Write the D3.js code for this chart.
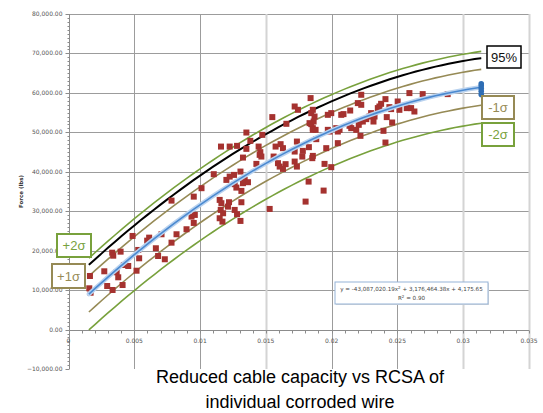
<!DOCTYPE html>
<html>
<head>
<meta charset="utf-8">
<script src="https://cdn.jsdelivr.net/npm/d3@7"></script>
<style>
  body { margin: 0; background: #fff; }
  text { font-family: "DejaVu Sans", sans-serif; }
</style>
</head>
<body>
<svg id="chart" width="543" height="413"></svg>
<script>
// measured points: [RCSA ratio, force lbs]
const samples = [
  [0.00783, 32690], [0.00952, 33700], [0.00487, 23730], [0.00332, 19490], [0.00396, 19750],
  [0.00340, 18730], [0.00613, 23300], [0.00598, 22540], [0.00707, 24160], [0.00821, 24160],
  [0.00897, 25430], [0.00935, 28630], [0.00960, 29060], [0.00952, 27030], [0.00664, 20610],
  [0.00530, 20180], [0.00537, 18070], [0.00681, 18650], [0.00732, 17820], [0.00783, 22030],
  [0.00421, 16370], [0.00454, 16120], [0.00272, 14770], [0.00366, 14520], [0.00378, 13250],
  [0.00517, 14920], [0.00163, 13580], [0.00158, 10460], [0.00168, 9340], [0.00294, 11040],
  [0.00335, 10030], [0.00411, 11290],
  [0.01840, 58680], [0.01719, 56550], [0.01744, 55710], [0.01549, 53860], [0.01656, 52160],
  [0.01845, 52080], [0.01857, 51060], [0.01352, 49950], [0.01473, 49360], [0.01382, 47840],
  [0.01159, 46390], [0.01225, 46390], [0.01281, 46570], [0.01352, 45810], [0.01445, 46390],
  [0.01458, 44970], [0.01453, 44290], [0.01466, 43860], [0.01574, 46390], [0.01612, 47000],
  [0.01630, 45990], [0.01736, 47660], [0.01719, 45130], [0.01781, 45300], [0.01777, 43860],
  [0.01857, 44030], [0.01326, 43600], [0.01559, 43860], [0.01592, 42180], [0.01605, 41320],
  [0.01650, 41930], [0.01630, 40730], [0.01719, 42590], [0.01736, 41320], [0.01428, 42000],
  [0.01104, 39390], [0.01307, 40050], [0.01200, 37940], [0.01225, 38780], [0.01258, 39210],
  [0.01263, 36850], [0.01276, 35990], [0.01339, 37940], [0.01364, 37360], [0.01326, 37110],
  [0.01314, 35150], [0.01011, 35840], [0.01149, 32870], [0.01162, 32030], [0.01220, 32280],
  [0.01212, 31170], [0.01314, 32280], [0.01157, 30330], [0.01175, 29490], [0.01263, 30330],
  [0.01281, 29240], [0.01149, 28220], [0.01170, 27360], [0.01307, 27540], [0.01529, 30580],
  [0.01825, 37510], [0.01802, 32440],
  [0.02225, 59520], [0.02591, 59950], [0.02692, 59690], [0.02882, 59690], [0.02199, 57410],
  [0.02225, 56980], [0.02409, 58420], [0.02376, 57230], [0.02363, 56550], [0.02351, 56140],
  [0.02502, 57820], [0.02439, 56390], [0.02452, 55890], [0.02515, 55710], [0.02571, 56140],
  [0.02604, 56140], [0.02629, 55280], [0.02141, 55530], [0.02073, 54440], [0.02090, 54620],
  [0.01971, 54440], [0.01997, 54870], [0.01857, 55710], [0.01845, 54870], [0.01870, 54010],
  [0.01863, 52740], [0.01832, 52330], [0.01857, 50630], [0.01878, 50630], [0.02300, 54870],
  [0.02313, 54440], [0.02326, 54010], [0.02288, 54010], [0.02263, 53350], [0.02237, 52740],
  [0.02212, 52740], [0.02206, 51900], [0.02318, 52740], [0.02419, 53860], [0.02460, 52490],
  [0.02136, 51650], [0.02149, 51060], [0.02187, 50630], [0.02035, 51060], [0.02060, 50630],
  [0.02047, 50200], [0.01971, 50630], [0.01984, 50200], [0.02394, 50380], [0.02219, 49110],
  [0.01959, 45990], [0.02047, 47260], [0.02409, 47410], [0.01883, 48270], [0.01827, 46240],
  [0.01853, 43450], [0.01946, 42000], [0.01997, 41170], [0.01939, 35230]
];

// blue markers stacked at the end of the fit
const endPoints = [[0.03137, 59600], [0.03137, 60400], [0.03137, 61100], [0.03137, 61800], [0.03137, 62300]];

// trendline y = a x^2 + b x + c
const fitCoef = [-43087020.19, 3176464.38, 4175.65];
const fitRange = [0.00155, 0.03137];

// bands: offset in lbs from the fit
const bandNames = ["+2σ", "95%", "+1σ", "-1σ", "-2σ"];
const bandOffsets = [9100, 7400, 4550, -4550, -9100];

const xTicks = [0, 0.005, 0.01, 0.015, 0.02, 0.025, 0.03, 0.035];
const xTickLabels = ["0", "0.005", "0.01", "0.015", "0.02", "0.025", "0.03", "0.035"];
const yTicks = [-10000, 0, 10000, 20000, 30000, 40000, 50000, 60000, 70000, 80000];

const svg = d3.select("#chart");
const x = d3.scaleLinear().domain([0, 0.035]).range([68.5, 529]);
const y = d3.scaleLinear().domain([-10000, 80000]).range([369, 14]);

const green = "#78a13c", olive = "#968a55";
const bandColor = { "+2σ": green, "-2σ": green, "+1σ": olive, "-1σ": olive, "95%": "#000" };

// grid
svg.append("g").selectAll("line").data(yTicks.filter(d => d > 0)).join("line")
  .attr("x1", x(0)).attr("x2", x(0.035))
  .attr("y1", d => Math.round(y(d)) + 0.5).attr("y2", d => Math.round(y(d)) + 0.5)
  .attr("stroke", "#9c9c9c").attr("stroke-width", 1);

const lightGrid = [0.015, 0.03, 0.035];
svg.append("g").selectAll("line").data(xTicks.filter(d => d > 0)).join("line")
  .attr("x1", d => Math.round(x(d)) + 0.5).attr("x2", d => Math.round(x(d)) + 0.5)
  .attr("y1", y(80000)).attr("y2", y(-10000))
  .attr("stroke", d => lightGrid.includes(d) ? "#d4d4d4" : "#9c9c9c")
  .attr("stroke-width", d => lightGrid.includes(d) ? 2 : 1);

// y axis
const yAxis = svg.append("g").attr("transform", `translate(${Math.round(x(0)) + 0.5},0)`);
yAxis.append("line").attr("y1", y(80000)).attr("y2", y(-10000)).attr("stroke", "#8c8c8c");
yAxis.selectAll(".minor").data(d3.range(-10000, 80001, 1000)).join("line")
  .attr("x1", d => d % 10000 === 0 ? -4 : -2).attr("x2", 0)
  .attr("y1", d => Math.round(y(d)) + 0.5).attr("y2", d => Math.round(y(d)) + 0.5)
  .attr("stroke", "#8c8c8c");
const fmtY = d3.format(",.2f");
yAxis.selectAll("text").data(yTicks).join("text")
  .attr("x", -7).attr("y", d => y(d) + 2)
  .attr("text-anchor", "end").attr("font-size", 6).attr("fill", "#555")
  .text(d => fmtY(d));

// x axis at zero
const xAxis = svg.append("g").attr("transform", `translate(0,${Math.round(y(0)) + 0.5})`);
xAxis.append("line").attr("x1", x(0)).attr("x2", x(0.035)).attr("stroke", "#8c8c8c");
xAxis.selectAll(".minor").data(d3.range(0, 36).map(i => i / 1000)).join("line")
  .attr("x1", d => Math.round(x(d)) + 0.5).attr("x2", d => Math.round(x(d)) + 0.5)
  .attr("y1", 0).attr("y2", 3).attr("stroke", "#8c8c8c");
xAxis.selectAll("text").data(xTicks).join("text")
  .attr("x", d => x(d)).attr("y", 12)
  .attr("text-anchor", "middle").attr("font-size", 6).attr("fill", "#555")
  .text((d, i) => xTickLabels[i]);

svg.append("text")
  .attr("transform", `translate(23,${y(35000)}) rotate(-90)`)
  .attr("text-anchor", "middle").attr("font-size", 5.5).attr("font-weight", "bold").attr("fill", "#333")
  .text("Force (lbs)");

// curves
const fit = v => fitCoef[0] * v * v + fitCoef[1] * v + fitCoef[2];
const xs = d3.range(0, 61).map(i => fitRange[0] + (fitRange[1] - fitRange[0]) * i / 60);
const line = d3.line().x(d => x(d[0])).y(d => y(d[1])).curve(d3.curveMonotoneX);

svg.append("g").selectAll("path").data(bandOffsets).join("path")
  .attr("d", (off) => line(xs.map(v => [v, fit(v) + off])))
  .attr("fill", "none")
  .attr("stroke", (off, i) => bandColor[bandNames[i]])
  .attr("stroke-width", (off, i) => bandNames[i] === "95%" ? 2 : 1.6);

// points
svg.append("g").selectAll("rect").data(samples).join("rect")
  .attr("x", d => x(d[0]) - 3).attr("y", d => y(d[1]) - 3)
  .attr("width", 6).attr("height", 6)
  .attr("fill", "#a5322f");

// fit line with glow
const fitPts = xs.map(v => [v, fit(v)]);
svg.append("path").attr("d", line(fitPts)).attr("fill", "none")
  .attr("stroke", "#b9d2ef").attr("stroke-width", 4.5).attr("stroke-linecap", "round");
svg.append("path").attr("d", line(fitPts)).attr("fill", "none")
  .attr("stroke", "#4a89d0").attr("stroke-width", 1.6);
svg.append("g").selectAll("circle").data(endPoints).join("circle")
  .attr("cx", d => x(d[0])).attr("cy", d => y(d[1])).attr("r", 2.8)
  .attr("fill", "#2e6db4");

// band labels
const labels = [
  { name: "95%", x: 487, y: 46, w: 34, h: 22, border: "#000", text: "#111", sw: 1.5 },
  { name: "-1σ", x: 482, y: 96, w: 32, h: 23, border: olive, text: olive, sw: 2 },
  { name: "-2σ", x: 482, y: 123, w: 32, h: 23, border: green, text: green, sw: 2 },
  { name: "+2σ", x: 57, y: 234, w: 34, h: 23, border: green, text: green, sw: 2 },
  { name: "+1σ", x: 52, y: 264, w: 33, h: 24, border: olive, text: olive, sw: 2 }
];
const lab = svg.append("g").selectAll("g").data(labels).join("g")
  .attr("transform", d => `translate(${d.x},${d.y})`);
lab.append("rect").attr("width", d => d.w).attr("height", d => d.h)
  .attr("fill", "#fff").attr("stroke", d => d.border).attr("stroke-width", d => d.sw);
lab.append("text").attr("x", d => d.w / 2).attr("y", d => d.h / 2 + 4.5)
  .attr("text-anchor", "middle").attr("font-size", 13)
  .style("font-family", "'Liberation Sans', sans-serif")
  .attr("fill", d => d.text).text(d => d.name);

// equation box
const eq = svg.append("g").attr("transform", "translate(335,282)");
eq.append("rect").attr("x", 1).attr("y", 1).attr("width", 153).attr("height", 22).attr("fill", "#d9d9d9");
eq.append("rect").attr("width", 153).attr("height", 22).attr("fill", "#fff")
  .attr("stroke", "#95b3d7").attr("stroke-width", 1);
eq.append("text").attr("x", 76.5).attr("y", 9).attr("text-anchor", "middle")
  .attr("font-size", 5.6).attr("fill", "#444")
  .html("y = -43,087,020.19x<tspan dy='-2' font-size='4'>2</tspan><tspan dy='2'> + 3,176,464.38x + 4,175.65</tspan>");
eq.append("text").attr("x", 76.5).attr("y", 18).attr("text-anchor", "middle")
  .attr("font-size", 5.6).attr("fill", "#444")
  .html("R<tspan dy='-2' font-size='4'>2</tspan><tspan dy='2'> = 0.90</tspan>");

// title
const title = svg.append("text").attr("text-anchor", "middle").attr("font-size", 18)
  .style("font-family", "'Liberation Sans', Arial, sans-serif").attr("fill", "#000");
title.append("tspan").attr("x", 300).attr("y", 383).text("Reduced cable capacity vs RCSA of");
title.append("tspan").attr("x", 300).attr("y", 408).text("individual corroded wire");
</script>
</body>
</html>
